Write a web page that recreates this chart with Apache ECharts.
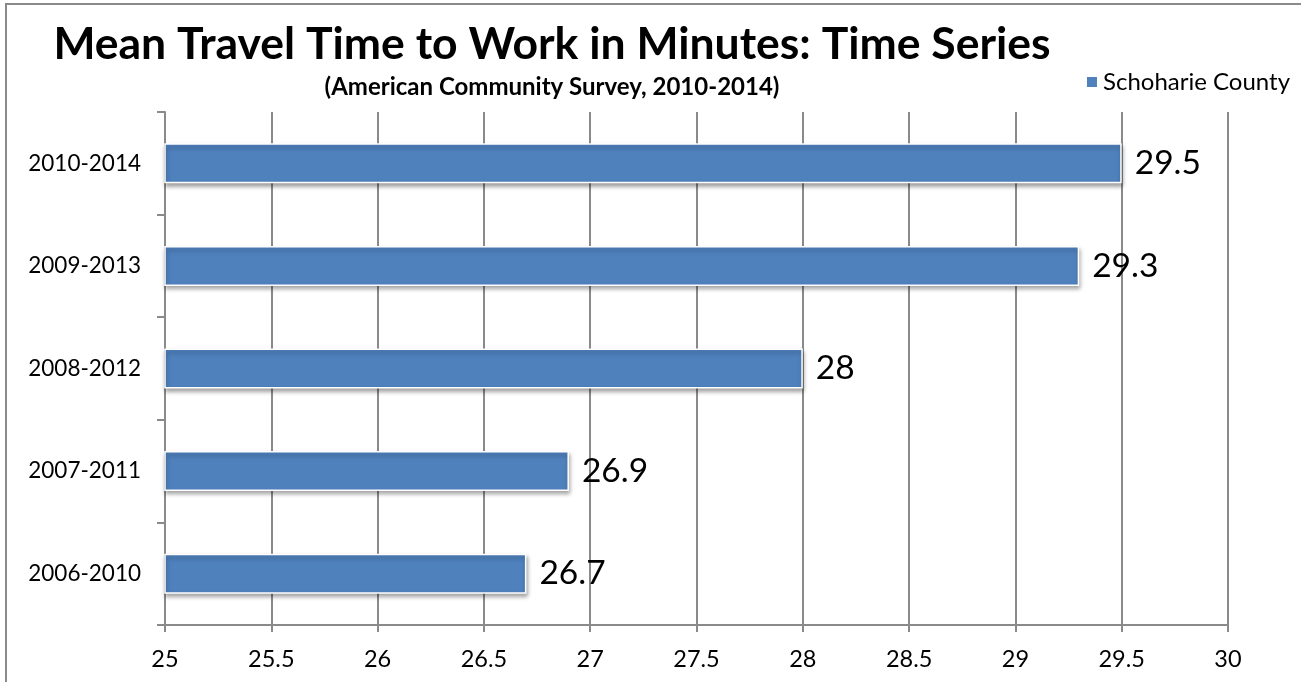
<!DOCTYPE html>
<html>
<head>
<meta charset="utf-8">
<script src="https://cdn.jsdelivr.net/npm/echarts@6/dist/echarts.min.js"></script>
<style>html,body{margin:0;padding:0;background:#fff;}#chart{width:1301px;height:682px;}</style>
</head>
<body>
<div id="chart"></div>
<script>
// Data (bottom-to-top order for category axis)
const categories = ['2006-2010', '2007-2011', '2008-2012', '2009-2013', '2010-2014'];
const values = [26.7, 26.9, 28, 29.3, 29.5];
const seriesName = 'Schoharie County';
const xTicks = [25, 25.5, 26, 26.5, 27, 27.5, 28, 28.5, 29, 29.5, 30];

const FONT = 'Lato, "Open Sans", sans-serif';
const chart = echarts.init(document.getElementById('chart'));
chart.setOption({
  backgroundColor: '#fff',
  animation: false,
  graphic: [{
    type: 'rect', silent: true,
    shape: { x: 6, y: 4, width: 1400, height: 800 },
    style: { fill: 'none', stroke: '#8a8a8a', lineWidth: 2 }
  }],
  title: {
    text: 'Mean Travel Time to Work in Minutes: Time Series',
    subtext: '(American Community Survey, 2010-2014)',
    left: 547, textAlign: 'center', top: 17, itemGap: 8,
    textStyle: { fontFamily: FONT, fontWeight: 'bold', fontSize: 44.5, color: '#000' },
    subtextStyle: { fontFamily: FONT, fontWeight: 'bold', fontSize: 24, color: '#000' }
  },
  legend: {
    data: [seriesName], right: 6, top: 65, itemWidth: 12, itemHeight: 12, itemGap: 6,
    icon: 'rect',
    textStyle: { fontFamily: FONT, fontSize: 24, color: '#000' }
  },
  grid: { left: 165, right: 73, top: 112, bottom: 57, containLabel: false },
  xAxis: {
    type: 'value', min: 25, max: 30, interval: 0.5,
    axisLine: { show: true, lineStyle: { color: '#8a8a8a', width: 2 } },
    axisTick: { show: true, length: 7, lineStyle: { color: '#8a8a8a', width: 2 } },
    splitLine: { show: true, lineStyle: { color: '#8a8a8a', width: 2 } },
    axisLabel: { fontFamily: FONT, fontSize: 23.5, color: '#000', margin: 22,
      formatter: v => String(+v.toFixed(1)) }
  },
  yAxis: {
    type: 'category', data: categories,
    axisLine: { show: true, lineStyle: { color: '#8a8a8a', width: 2 } },
    axisTick: { show: true, length: 8, lineStyle: { color: '#8a8a8a', width: 2 } },
    axisLabel: { fontFamily: FONT, fontSize: 22.5, color: '#000', margin: 24 }
  },
  series: [{
    name: seriesName, type: 'bar', data: values, barWidth: 40,
    itemStyle: {
      color: '#4F81BD', borderColor: '#fff', borderWidth: 1.5,
      shadowColor: 'rgba(0,0,0,0.35)', shadowBlur: 4, shadowOffsetX: 1, shadowOffsetY: 3
    },
    label: { show: true, position: 'right', distance: 13, fontFamily: FONT, fontSize: 33.5, color: '#000' }
  }]
});
</script>
</body>
</html>
